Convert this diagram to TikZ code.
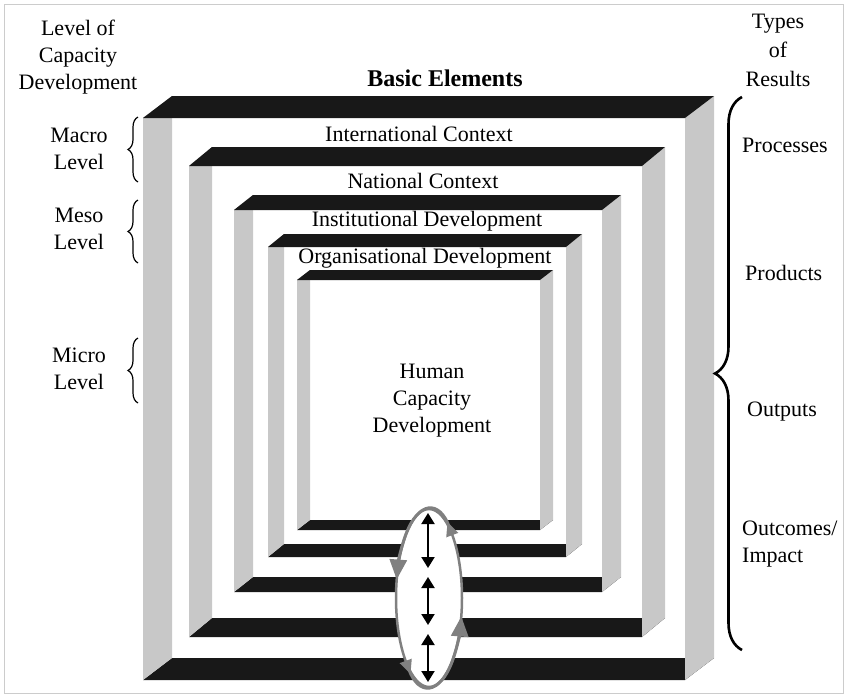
\documentclass[tikz,border=0pt]{standalone}
\usepackage{fontspec}
\setmainfont{Liberation Serif}
\usetikzlibrary{arrows.meta,decorations.pathreplacing}
\definecolor{sidegray}{RGB}{200,200,200}
\definecolor{barblack}{RGB}{24,24,24}
\definecolor{loopgray}{RGB}{128,128,128}
\tikzset{
  lbl/.style={font=\fontsize{22}{27}\selectfont, align=center, inner sep=0pt},
  head/.style={font=\bfseries\fontsize{24}{28}\selectfont, inner sep=0pt},
  levelbrace/.style={decorate, decoration={brace, amplitude=10pt}, line width=1.2pt},
  dbl/.style={{Triangle[width=13pt,length=11pt]}-{Triangle[width=13pt,length=11pt]}, line width=2pt},
  cyc/.style={loopgray, line width=3pt,
    {Triangle[reversed,width=12pt,length=14pt]}-{Triangle[width=17pt,length=20pt]}}
}
\begin{document}
\begin{tikzpicture}[x=1pt,y=-1pt]
  \useasboundingbox (0,0) rectangle (847,697);
  \draw[gray!40] (4,4) rectangle (843,693);
  % nested frames: left, right, top, bottom, depth
  \foreach \xl/\xr/\yt/\yb/\dx/\dy in {143/685/118/680/29/22, 189/642/166/637/23/19,
      234/602/210/592/19/15, 268/566/247/557/16/13, 297/540/280/530/13/10}{
    \fill[barblack] (\xl,\yb) -- (\xr,\yb) -- ({\xr+\dx},{\yb-\dy}) -- ({\xl+\dx},{\yb-\dy}) -- cycle;
    \fill[sidegray] (\xl,\yt) -- ({\xl+\dx},{\yt-\dy}) -- ({\xl+\dx},{\yb-\dy}) -- (\xl,\yb) -- cycle;
    \fill[sidegray] (\xr,\yt) -- ({\xr+\dx},{\yt-\dy}) -- ({\xr+\dx},{\yb-\dy}) -- (\xr,\yb) -- cycle;
    \fill[barblack] (\xl,\yt) -- (\xr,\yt) -- ({\xr+\dx},{\yt-\dy}) -- ({\xl+\dx},{\yt-\dy}) -- cycle;
  }
  % frame titles
  \node[head] (basic) at (445,78) {Basic Elements};
  \node[lbl] (intl) at (419,134) {International Context};
  \node[lbl] (natl) at (423,181) {National Context};
  \node[lbl] (inst) at (427,221) {Institutional Development};
  \node[lbl] (orga) at (425,258) {Organisational Development};
  \node[lbl] (human) at (432,401) {Human\\Capacity\\Development};
  % left column
  \node[lbl] (levelhead) at (78,57) {Level of\\Capacity\\Development};
  \node[lbl] (macro) at (79,149) {Macro\\Level};
  \node[lbl] (meso) at (79,229) {Meso\\Level};
  \node[lbl] (micro) at (79,369) {Micro\\Level};
  \coordinate (macroA) at (138,182); \coordinate (macroB) at (138,117);
  \coordinate (mesoA) at (138,263);  \coordinate (mesoB) at (138,200);
  \coordinate (microA) at (138,403); \coordinate (microB) at (138,338);
  \draw[levelbrace] (macroA) -- (macroB);
  \draw[levelbrace] (mesoA) -- (mesoB);
  \draw[levelbrace] (microA) -- (microB);
  % right column
  \node[lbl, font=\fontsize{22}{29}\selectfont] (types) at (778,50) {Types\\of\\Results};
  \node[lbl, anchor=west] (proc) at (742,145) {Processes};
  \node[lbl, anchor=west] (prod) at (745,273) {Products};
  \node[lbl, anchor=west] (outp) at (747,412) {Outputs};
  \node[lbl, anchor=north west, align=left] (outc) at (742,521) {Outcomes/\\Impact};
  \coordinate (resA) at (742,650); \coordinate (resB) at (742,97);
  \draw[decorate, decoration={brace, amplitude=27pt}, line width=2.6pt] (resA) -- (resB);
  % cycle loop
  \coordinate (loop) at (429,598);
  \draw[loopgray, line width=2.5pt, fill=white] (loop) ellipse [x radius=33, y radius=89];
  \coordinate (tailA) at (452.3,535.1);
  \coordinate (tailB) at (405.7,660.9);
  \draw[cyc] (tailA) arc[start angle=-45, end angle=-168, x radius=33, y radius=89];
  \draw[cyc] (tailB) arc[start angle=-225, end angle=-348, x radius=33, y radius=89];
  \foreach \ya/\yb [count=\i] in {513/568, 577/625, 634/682}{
    \coordinate (up\i) at (428,\ya);
    \coordinate (dn\i) at (428,\yb);
    \draw[dbl] (up\i) -- (dn\i);
  }
\end{tikzpicture}
\end{document}
